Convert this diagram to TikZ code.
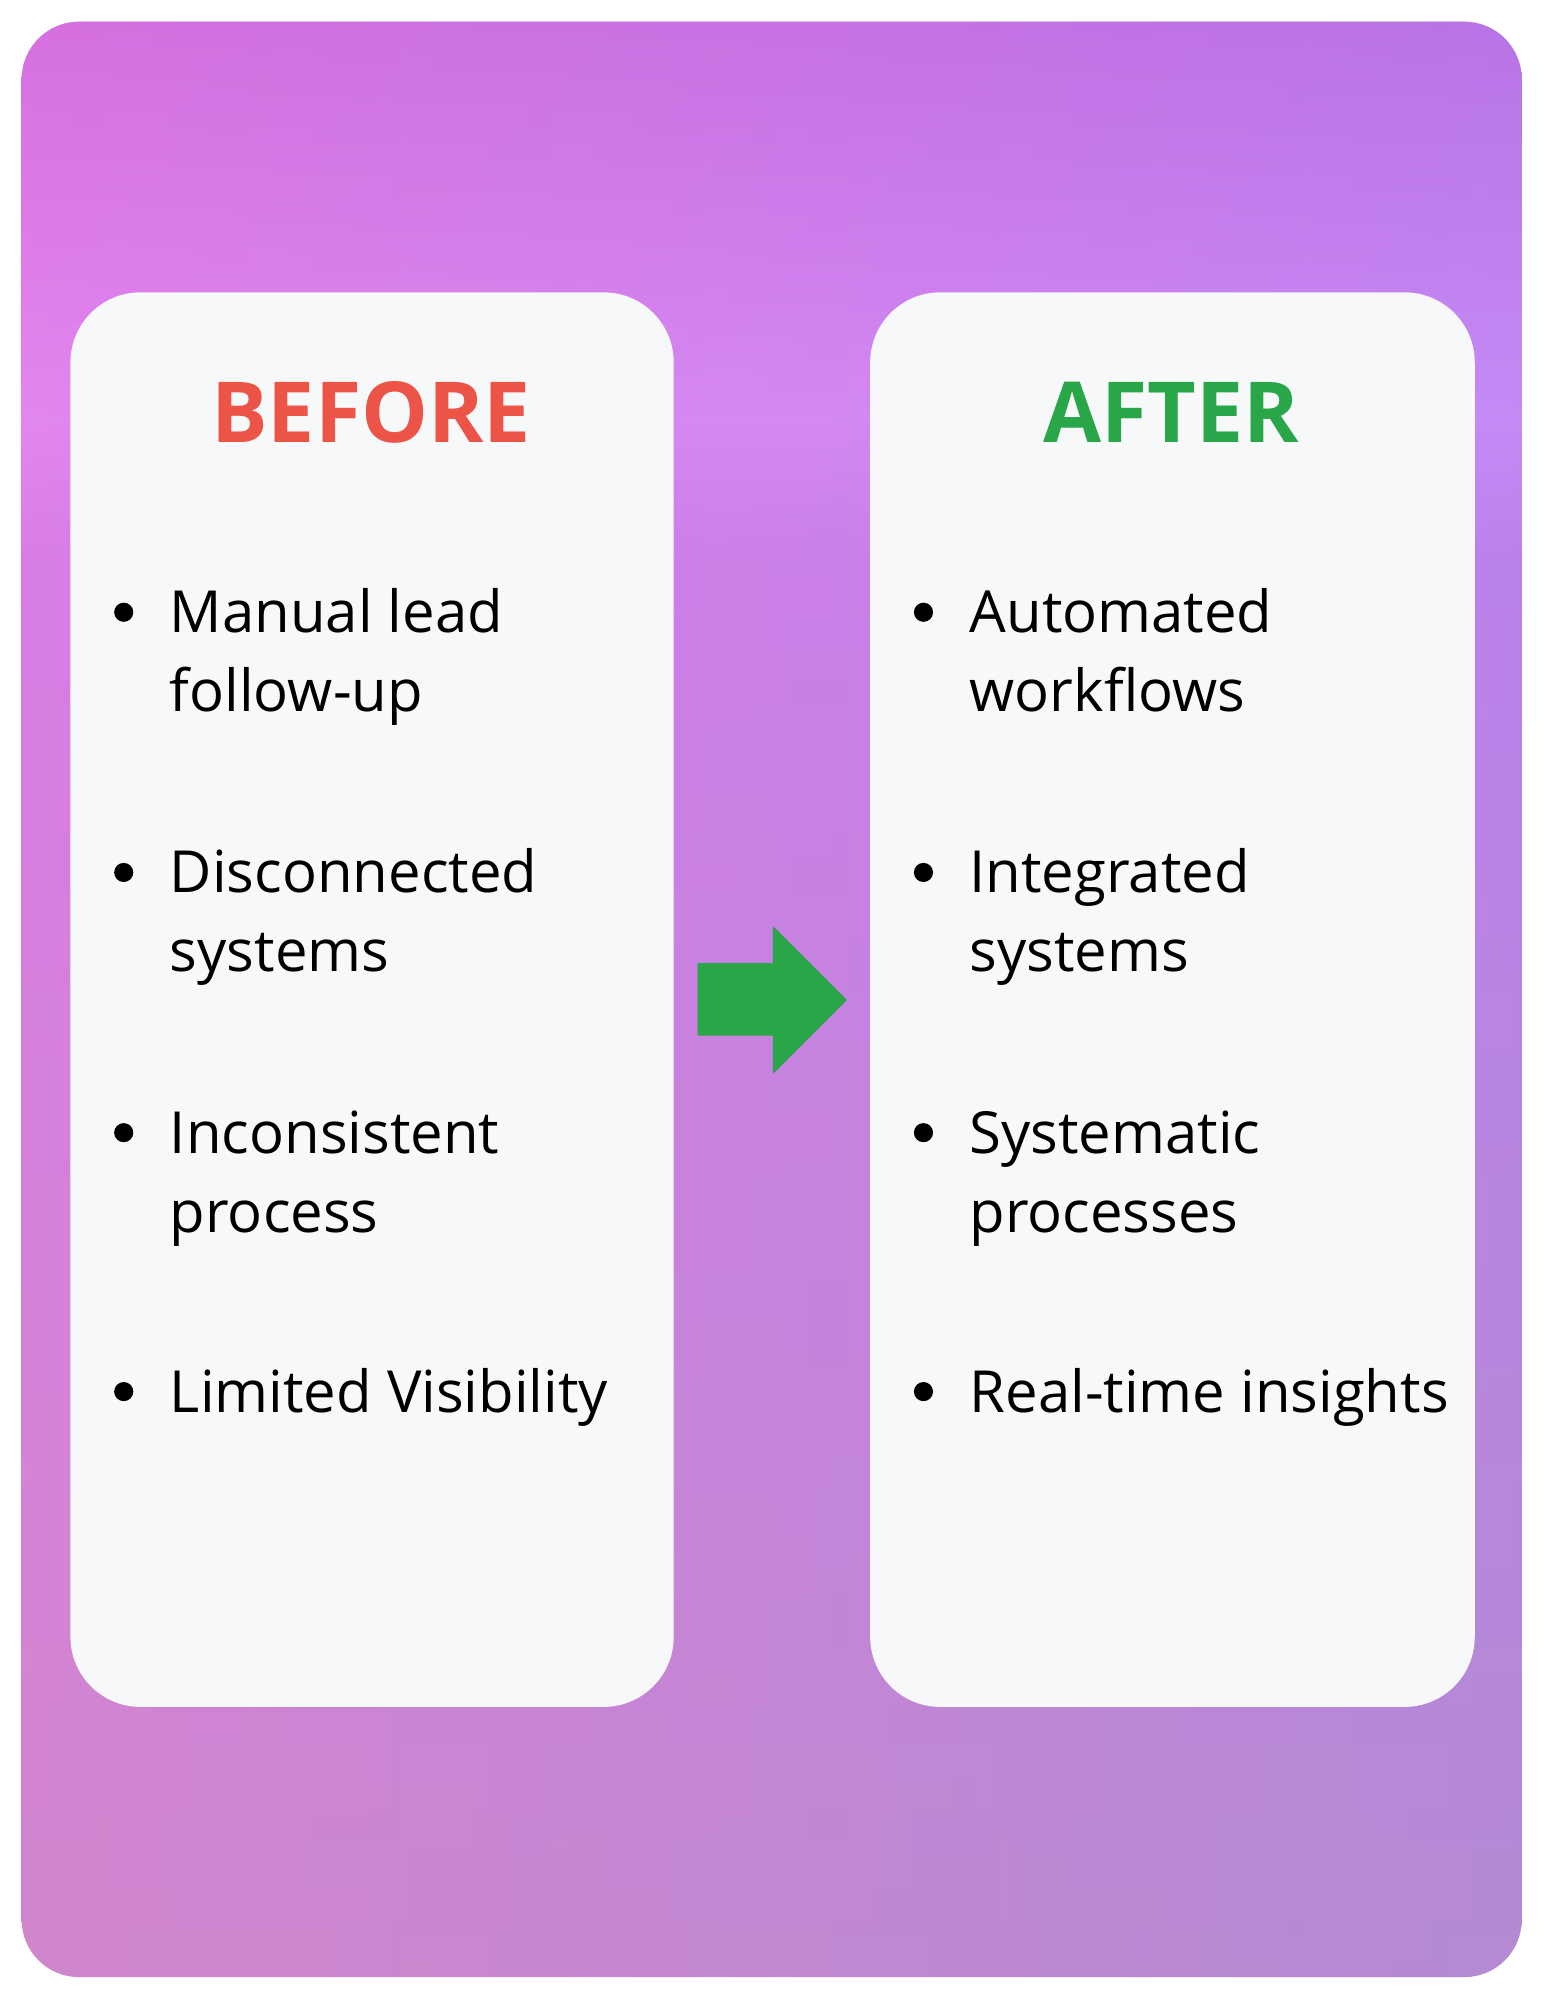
\documentclass[tikz,border=0pt]{standalone}
\usepackage{fontspec}
\setmainfont{Open Sans}
\begin{document}
\begin{tikzpicture}[x=1pt,y=-1pt,
  card/.style={fill=cardbg,draw=none,rounded corners=55pt},
  item/.style={anchor=base west,font=\fontsize{45.5}{62}\selectfont,text=black,inner sep=0pt},
  head/.style={anchor=base,font=\fontsize{66}{80}\selectfont\bfseries,inner sep=0pt},
  dot/.style={fill=black}]
\definecolor{cardbg}{RGB}{247,248,250}
\definecolor{redt}{RGB}{236,84,72}
\definecolor{greent}{RGB}{40,166,72}
\definecolor{gtop}{RGB}{200,112,226}
\definecolor{gmid}{RGB}{222,150,252}
\definecolor{gmid2}{RGB}{205,135,235}
\definecolor{gbot}{RGB}{192,150,195}
\definecolor{gpink}{RGB}{235,110,220}
\definecolor{gpurp}{RGB}{160,120,235}
\useasboundingbox (0,0) rectangle (1210,1568);
\fill[white] (0,0) rectangle (1210,1568);
\begin{scope}
\clip[rounded corners=45pt] (17,17) rectangle (1193,1550);
\shade[top color=gtop,bottom color=gmid] (17,17) rectangle (1193,330);
\shade[top color=gmid,bottom color=gmid2] (17,329) rectangle (1193,440);
\shade[top color=gmid2,bottom color=gbot] (17,439) rectangle (1193,1550);
\shade[left color=gpink,right color=gpurp,opacity=0.4] (17,17) rectangle (1193,1550);
\end{scope}
\node[card,minimum width=473pt,minimum height=1109pt,anchor=north west] (left) at (55,229) {};
\node[card,minimum width=474pt,minimum height=1109pt,anchor=north west] (right) at (682,229) {};
\node[head,text=redt] (before) at (291,347) {BEFORE};
\node[head,text=greent] (after) at (918,347) {AFTER};
\foreach \y/\t [count=\i] in {496/{Manual lead\\follow-up},700/{Disconnected\\systems},904/{Inconsistent\\process},1107/{Limited Visibility}}{
  \fill[dot] (97,\y-16) circle (7.5pt);
  \node[item] (l\i) at (133,\y) {\begin{tabular}[t]{@{}l@{}}\t\end{tabular}};
}
\foreach \y/\t [count=\i] in {496/{Automated\\workflows},700/{Integrated\\systems},904/{Systematic\\processes},1107/{Real-time insights}}{
  \fill[dot] (724,\y-16) circle (7.5pt);
  \node[item] (r\i) at (760,\y) {\begin{tabular}[t]{@{}l@{}}\t\end{tabular}};
}
\fill[greent] (547,755) -- (606,755) -- (606,726) -- (664,784) -- (606,842) -- (606,812) -- (547,812) -- cycle;
\end{tikzpicture}
\end{document}
